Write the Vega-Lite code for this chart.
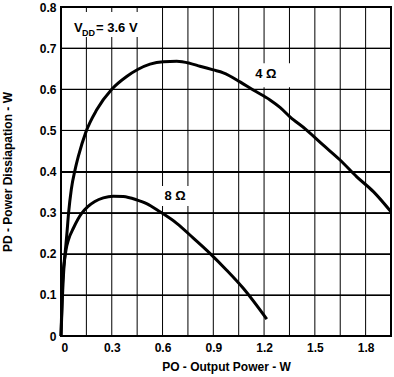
{
  "$schema": "https://vega.github.io/schema/vega-lite/v6.json",
  "width": 330,
  "height": 329,
  "autosize": "none",
  "padding": {"left": 61, "top": 7, "right": 3, "bottom": 41},
  "background": "white",
  "config": {
    "view": {"stroke": "black", "strokeWidth": 2},
    "font": "Liberation Sans",
    "axis": {
      "domain": false,
      "ticks": false,
      "labelFont": "Liberation Sans",
      "labelFontSize": 12,
      "labelFontWeight": "bold",
      "labelColor": "black",
      "titleFont": "Liberation Sans",
      "titleFontSize": 12,
      "titleFontWeight": "bold",
      "titleColor": "black"
    }
  },
  "datasets": {
    "xgrid": [
      {"g": 0.15}, {"g": 0.3}, {"g": 0.45}, {"g": 0.6}, {"g": 0.75}, {"g": 0.9}, {"g": 1.05},
      {"g": 1.2}, {"g": 1.35}, {"g": 1.5}, {"g": 1.65}, {"g": 1.8}
    ],
    "ygrid": [
      {"g": 0.1, "a": 0, "b": 1.95}, {"g": 0.2, "a": 0, "b": 1.95}, {"g": 0.3, "a": 0, "b": 1.95},
      {"g": 0.4, "a": 0, "b": 1.95}, {"g": 0.5, "a": 0, "b": 1.95}, {"g": 0.6, "a": 0, "b": 1.95},
      {"g": 0.7, "a": 0, "b": 1.95}
    ],
    "curves": [
      {"series": "4", "p": 0, "d": 0},
      {"series": "4", "p": 0.008, "d": 0.12},
      {"series": "4", "p": 0.024, "d": 0.2},
      {"series": "4", "p": 0.034, "d": 0.245},
      {"series": "4", "p": 0.045, "d": 0.3},
      {"series": "4", "p": 0.061, "d": 0.357},
      {"series": "4", "p": 0.083, "d": 0.404},
      {"series": "4", "p": 0.102, "d": 0.436},
      {"series": "4", "p": 0.148, "d": 0.497},
      {"series": "4", "p": 0.211, "d": 0.55},
      {"series": "4", "p": 0.3, "d": 0.6},
      {"series": "4", "p": 0.388, "d": 0.631},
      {"series": "4", "p": 0.453, "d": 0.648},
      {"series": "4", "p": 0.526, "d": 0.661},
      {"series": "4", "p": 0.605, "d": 0.667},
      {"series": "4", "p": 0.684, "d": 0.668},
      {"series": "4", "p": 0.762, "d": 0.663},
      {"series": "4", "p": 0.821, "d": 0.656},
      {"series": "4", "p": 0.9, "d": 0.647},
      {"series": "4", "p": 0.959, "d": 0.64},
      {"series": "4", "p": 1.058, "d": 0.618},
      {"series": "4", "p": 1.136, "d": 0.598},
      {"series": "4", "p": 1.235, "d": 0.574},
      {"series": "4", "p": 1.294, "d": 0.556},
      {"series": "4", "p": 1.353, "d": 0.533},
      {"series": "4", "p": 1.448, "d": 0.502},
      {"series": "4", "p": 1.55, "d": 0.464},
      {"series": "4", "p": 1.649, "d": 0.428},
      {"series": "4", "p": 1.748, "d": 0.387},
      {"series": "4", "p": 1.846, "d": 0.351},
      {"series": "4", "p": 1.95, "d": 0.302},
      {"series": "8", "p": 0, "d": 0},
      {"series": "8", "p": 0.008, "d": 0.09},
      {"series": "8", "p": 0.018, "d": 0.17},
      {"series": "8", "p": 0.03, "d": 0.21},
      {"series": "8", "p": 0.045, "d": 0.235},
      {"series": "8", "p": 0.073, "d": 0.262},
      {"series": "8", "p": 0.1, "d": 0.284},
      {"series": "8", "p": 0.122, "d": 0.298},
      {"series": "8", "p": 0.16, "d": 0.315},
      {"series": "8", "p": 0.2, "d": 0.327},
      {"series": "8", "p": 0.25, "d": 0.336},
      {"series": "8", "p": 0.309, "d": 0.34},
      {"series": "8", "p": 0.368, "d": 0.339},
      {"series": "8", "p": 0.447, "d": 0.331},
      {"series": "8", "p": 0.506, "d": 0.322},
      {"series": "8", "p": 0.585, "d": 0.302},
      {"series": "8", "p": 0.684, "d": 0.274},
      {"series": "8", "p": 0.782, "d": 0.238},
      {"series": "8", "p": 0.88, "d": 0.201},
      {"series": "8", "p": 0.979, "d": 0.16},
      {"series": "8", "p": 1.077, "d": 0.116},
      {"series": "8", "p": 1.216, "d": 0.041}
    ],
    "boxes": [
      {"x1": 0.04, "x2": 0.526, "y1": 0.727, "y2": 0.788},
      {"x1": 1.117, "x2": 1.365, "y1": 0.605, "y2": 0.663},
      {"x1": 0.573, "x2": 0.774, "y1": 0.316, "y2": 0.365}
    ],
    "labels": [
      {"p": 1.21, "d": 0.638, "text": "4 Ω"},
      {"p": 0.674, "d": 0.34, "text": "8 Ω"}
    ],
    "vdd": [
      {"p": 0.077, "d": 0.738, "text": "V", "size": 13},
      {"p": 0.124, "d": 0.7295, "text": "DD", "size": 9},
      {"p": 0.207, "d": 0.738, "text": "= 3.6 V", "size": 13}
    ]
  },
  "layer": [
    {
      "data": {"name": "xgrid"},
      "mark": {"type": "rule", "color": "black", "strokeWidth": 1},
      "encoding": {
        "x": {"field": "g", "type": "quantitative", "scale": {"domain": [0, 1.95], "nice": false, "zero": false}, "title": "PO - Output Power - W",
          "axis": {
            "grid": false,
            "values": [0, 0.3, 0.6, 0.9, 1.2, 1.5, 1.8],
            "labelExpr": "datum.value == 0 ? '0' : format(datum.value, '.1f')",
            "labelPadding": 6, "titlePadding": 8
          }}
      }
    },
    {
      "data": {"name": "ygrid"},
      "mark": {"type": "rule", "color": "black", "strokeWidth": 1},
      "encoding": {
        "x": {"field": "a", "type": "quantitative", "title": "PO - Output Power - W"},
        "x2": {"field": "b"},
        "y": {"field": "g", "type": "quantitative", "scale": {"domain": [0, 0.8], "nice": false}, "title": "PD - Power Dissiapation - W",
          "axis": {
            "grid": true, "gridColor": "black", "gridWidth": 1, "gridOpacity": 1,
            "values": [0, 0.1, 0.2, 0.3, 0.4, 0.5, 0.6, 0.7, 0.8],
            "labelExpr": "datum.value == 0 ? '0' : format(datum.value, '.1f')",
            "labelPadding": 5, "titlePadding": 25
          }}
      }
    },
    {
      "data": {"name": "boxes"},
      "mark": {"type": "rect", "color": "white"},
      "encoding": {
        "x": {"field": "x1", "type": "quantitative", "title": "PO - Output Power - W"},
        "x2": {"field": "x2"},
        "y": {"field": "y1", "type": "quantitative", "title": "PD - Power Dissiapation - W"},
        "y2": {"field": "y2"}
      }
    },
    {
      "data": {"name": "curves"},
      "mark": {"type": "line", "color": "black", "strokeWidth": 3, "interpolate": "monotone"},
      "encoding": {
        "x": {"field": "p", "type": "quantitative", "title": "PO - Output Power - W"},
        "y": {"field": "d", "type": "quantitative", "title": "PD - Power Dissiapation - W"},
        "detail": {"field": "series"}
      }
    },
    {
      "data": {"name": "labels"},
      "mark": {"type": "text", "font": "Liberation Sans", "fontWeight": "bold", "fontSize": 13, "align": "center", "baseline": "middle", "color": "black"},
      "encoding": {
        "x": {"field": "p", "type": "quantitative", "title": "PO - Output Power - W"},
        "y": {"field": "d", "type": "quantitative", "title": "PD - Power Dissiapation - W"},
        "text": {"field": "text"}
      }
    },
    {
      "data": {"name": "vdd"},
      "mark": {"type": "text", "font": "Liberation Sans", "fontWeight": "bold", "align": "left", "baseline": "alphabetic", "color": "black"},
      "encoding": {
        "x": {"field": "p", "type": "quantitative", "title": "PO - Output Power - W"},
        "y": {"field": "d", "type": "quantitative", "title": "PD - Power Dissiapation - W"},
        "text": {"field": "text"},
        "size": {"field": "size", "type": "quantitative", "scale": null, "legend": null}
      }
    }
  ]
}
